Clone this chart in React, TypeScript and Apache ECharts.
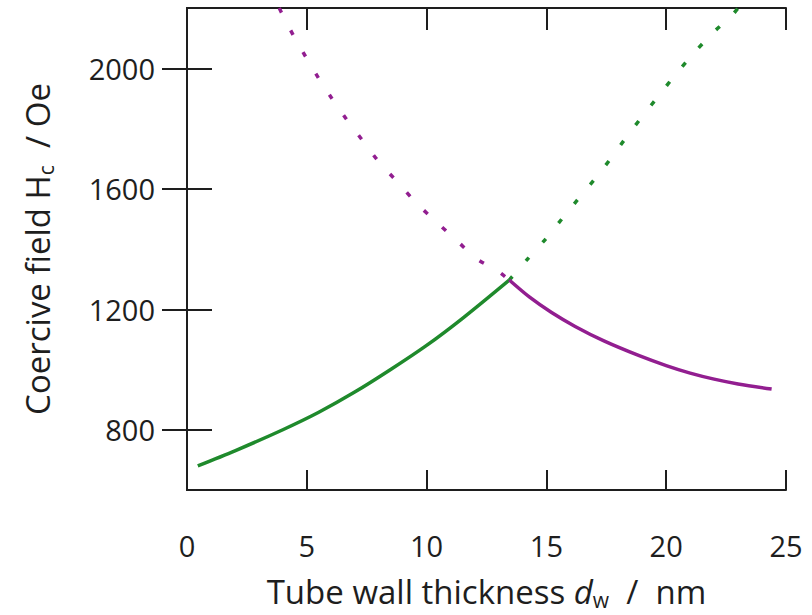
import React, { useEffect, useRef } from "react";
import * as echarts from "echarts";

// Wall thickness d_w (nm) vs coercive field H_c (Oe)
const xTicks = [0, 5, 10, 15, 20, 25];
const yTicks = [800, 1200, 1600, 2000];

// Green branch: solid part (stable) and dotted continuation
const greenSolid: [number, number][] = [
  [0.45, 680], [2.0, 730], [4.0, 800], [5.5, 858], [7.0, 925], [8.5, 1000],
  [10.0, 1080], [11.5, 1170], [13.45, 1297],
];
const greenDotted: [number, number][] = [
  [13.45, 1297], [14.22, 1367], [15.01, 1437], [15.72, 1507], [16.4, 1573],
  [17.1, 1640], [17.76, 1708], [18.39, 1777], [19.05, 1845], [19.71, 1911],
  [20.4, 1980], [21.14, 2049], [21.93, 2116], [22.76, 2177], [23.0, 2200],
];

// Purple branch: dotted part and solid (stable) part
const purpleDotted: [number, number][] = [
  [3.85, 2200], [4.01, 2174], [4.5, 2100], [5.0, 2032], [5.5, 1966], [6.07, 1897],
  [6.68, 1828], [7.35, 1758], [8.0, 1690], [8.74, 1626], [9.57, 1553],
  [10.4, 1490], [11.26, 1428], [12.1, 1367], [12.95, 1328], [13.45, 1297],
];
const purpleSolid: [number, number][] = [
  [13.45, 1297], [14.3, 1240], [15.2, 1190], [16.2, 1143], [17.4, 1095],
  [18.9, 1045], [20.0, 1013], [21.0, 988], [22.0, 968], [23.0, 952], [24.4, 935],
];

const GREEN = "#1f8a2c";
const PURPLE = "#921e90";
const INK = "#1e1e1e";
const FONT = "'Open Sans', 'Noto Sans', sans-serif";

export default function App() {
  const ref = useRef<HTMLDivElement>(null);

  useEffect(() => {
    if (!ref.current) return;
    const chart = echarts.init(ref.current, null, { renderer: "svg" });

    const frameAxisLine = { show: true, lineStyle: { color: INK, width: 2 } };
    const tick = (len: number) => ({
      show: true,
      inside: true,
      length: len,
      lineStyle: { color: INK, width: 2 },
    });

    const line = (
      data: [number, number][],
      color: string,
      dotted: boolean
    ) => ({
      type: "line",
      data,
      smooth: 0.3,
      showSymbol: false,
      xAxisIndex: 0,
      yAxisIndex: 0,
      lineStyle: {
        color,
        width: 3.5,
        type: dotted ? [5, 20] : "solid",
        cap: "butt",
      },
      silent: true,
    });

    chart.setOption({
      animation: false,
      backgroundColor: "#fff",
      grid: { left: 187, right: 26, top: 8, bottom: 125, containLabel: false },
      xAxis: [
        {
          type: "value",
          position: "bottom",
          min: xTicks[0],
          max: xTicks[xTicks.length - 1],
          interval: 5,
          axisLine: frameAxisLine,
          axisTick: tick(20),
          splitLine: { show: false },
          axisLabel: {
            margin: 41,
            color: INK,
            fontSize: 29,
            fontFamily: FONT,
            formatter: (v: number) => String(v),
          },
          name: "Tube wall thickness {it|d}{sub|w}  /  nm",
          nameLocation: "middle",
          nameGap: 83,
          nameTextStyle: {
            color: INK,
            fontSize: 33,
            fontFamily: FONT,
            rich: {
              it: { fontSize: 33, fontStyle: "italic", fontFamily: FONT, color: INK },
              sub: { fontSize: 21, fontFamily: FONT, color: INK, padding: [16, 0, 0, 0] },
            },
          },
        },
        {
          type: "value",
          position: "top",
          min: xTicks[0],
          max: xTicks[xTicks.length - 1],
          interval: 5,
          axisLine: frameAxisLine,
          axisTick: tick(22),
          axisLabel: { show: false },
          splitLine: { show: false },
        },
      ],
      yAxis: [
        {
          type: "value",
          position: "left",
          min: 600,
          max: 2200,
          axisLine: frameAxisLine,
          axisTick: { ...tick(25), customValues: yTicks },
          splitLine: { show: false },
          axisLabel: {
            customValues: yTicks,
            margin: 32,
            color: INK,
            fontSize: 29,
            fontFamily: FONT,
            formatter: (v: number) => String(v),
          },
          name: "Coercive field H{sub|c}  / Oe",
          nameLocation: "middle",
          nameGap: 131,
          nameTextStyle: {
            color: INK,
            fontSize: 33,
            fontFamily: FONT,
            rich: {
              sub: { fontSize: 21, fontFamily: FONT, color: INK, padding: [16, 0, 0, 0] },
            },
          },
        },
        {
          type: "value",
          position: "right",
          min: 600,
          max: 2200,
          axisLine: frameAxisLine,
          axisTick: { ...tick(25), customValues: yTicks },
          axisLabel: { show: false },
          splitLine: { show: false },
        },
      ],
      series: [
        line(purpleDotted, PURPLE, true),
        line(greenDotted, GREEN, true),
        line(greenSolid, GREEN, false),
        line(purpleSolid, PURPLE, false),
      ],
    });

    return () => chart.dispose();
  }, []);

  return (
    <div
      ref={ref}
      style={{ position: "fixed", left: 0, top: 0, width: 812, height: 615 }}
    />
  );
}
